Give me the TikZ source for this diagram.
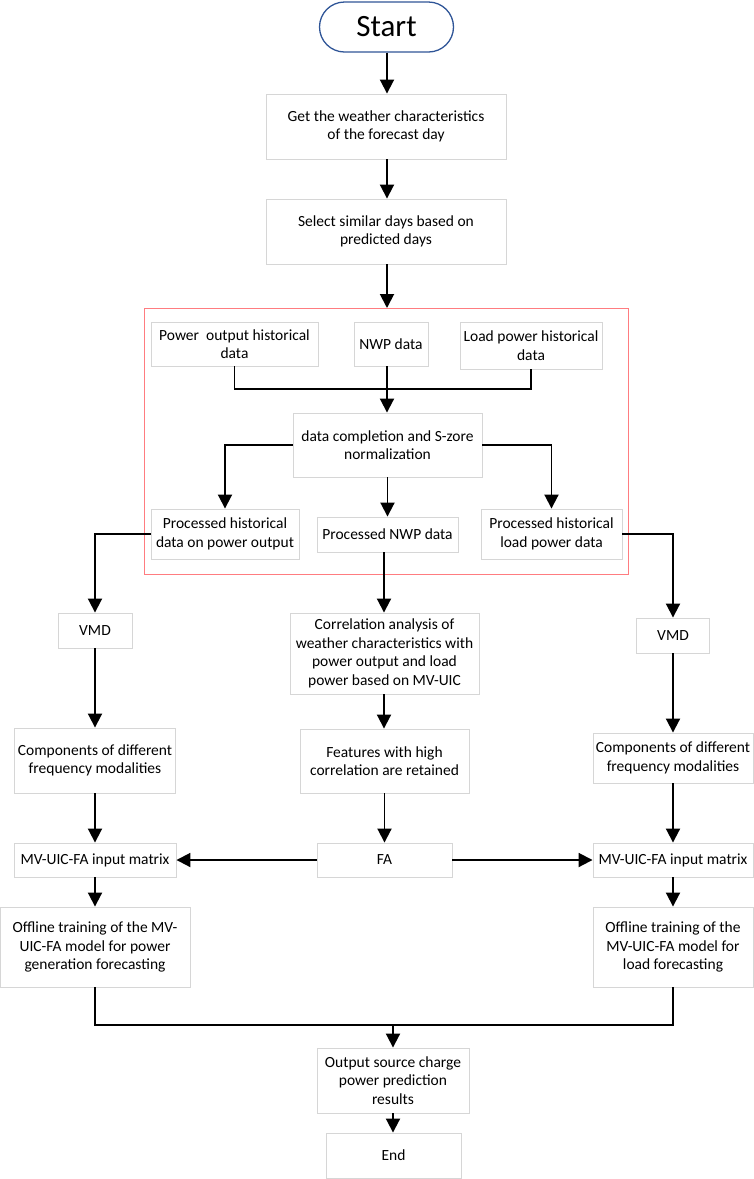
\documentclass[tikz,border=0pt]{standalone}
\usepackage{fontspec}
\setmainfont{Carlito}
\usetikzlibrary{arrows.meta}
\definecolor{boxgray}{HTML}{D6D6D6}
\definecolor{startblue}{HTML}{2F5597}
\definecolor{redline}{HTML}{FF7C80}
\begin{document}
\begin{tikzpicture}[x=1pt,y=-1pt,
  box/.style={draw=boxgray, line width=0.9pt, align=center, inner sep=0pt, font=\fontsize{15.5}{18.5}\selectfont},
  arr/.style={line width=1.9pt, -{Triangle[width=14pt,length=14pt]}},
  ln/.style={line width=1.9pt}]
\useasboundingbox (0,0) rectangle (754,1179);

% red frame
\draw[redline, line width=1pt] (144,308) rectangle (628,574);

% nodes
\node[draw=startblue, line width=1.3pt, rounded corners=25pt, minimum width=134pt, minimum height=50pt, inner sep=0pt, font=\fontsize{31}{34}\selectfont] (start) at (386.5,27) {Start};
\node[box, minimum width=240pt, minimum height=65pt] (b1) at (386,126.5) {Get the weather characteristics\\of the forecast day};
\node[box, minimum width=240pt, minimum height=65pt] (b2) at (386,231.5) {Select similar days based on\\predicted days};

\node[box, minimum width=167pt, minimum height=44pt] (pw) at (234.5,344) {Power\ \ output historical\\data};
\node[box, minimum width=74pt, minimum height=44pt] (nwp) at (391,344) {NWP data};
\node[box, minimum width=142pt, minimum height=47pt] (ld) at (531,345.5) {Load power historical\\data};

\node[box, minimum width=189pt, minimum height=64pt] (dc) at (387.5,445) {data completion and S-zore\\normalization};

\node[box, minimum width=148pt, minimum height=50pt] (ph) at (225,534) {Processed historical\\data on power output};
\node[box, minimum width=141pt, minimum height=35pt] (pn) at (387.5,534.5) {Processed NWP data};
\node[box, minimum width=141pt, minimum height=50pt] (pl) at (551.5,534) {Processed historical\\load power data};

\node[box, minimum width=74pt, minimum height=35pt] (vmdL) at (95,630.5) {VMD};
\node[box, minimum width=73pt, minimum height=35pt] (vmdR) at (673,635.5) {VMD};
\node[box, minimum width=189pt, minimum height=81pt] (corr) at (384.5,653.5) {Correlation analysis of\\weather characteristics with\\power output and load\\power based on MV-UIC};

\node[box, minimum width=161pt, minimum height=65pt] (compL) at (95,760.5) {Components of different\\frequency modalities};
\node[box, minimum width=169pt, minimum height=64pt] (feat) at (384.5,761) {Features with high\\correlation are retained};
\node[box, minimum width=160pt, minimum height=50pt] (compR) at (673,758) {Components of different\\frequency modalities};

\node[box, minimum width=162pt, minimum height=34pt] (mvL) at (95,860) {MV-UIC-FA input matrix};
\node[box, minimum width=135pt, minimum height=34pt] (fa) at (384.5,860) {FA};
\node[box, minimum width=160pt, minimum height=34pt] (mvR) at (673,860) {MV-UIC-FA input matrix};

\node[box, minimum width=190pt, minimum height=80pt] (offL) at (95,947) {Offline training of the MV-\\UIC-FA model for power\\generation forecasting};
\node[box, minimum width=160pt, minimum height=80pt] (offR) at (673,947) {Offline training of the\\MV-UIC-FA model for\\load forecasting};

\node[box, minimum width=152pt, minimum height=65pt] (out) at (393,1080.5) {Output source charge\\power prediction\\results};
\node[box, minimum width=135pt, minimum height=45pt] (end) at (393.5,1155.5) {End};

% helper coordinates
\coordinate (jn) at (387,389);
\coordinate (mc) at (384,0);
\coordinate (bj) at (393,1025);

% connectors
\draw[arr] (start.south -| jn) -- (b1.north -| jn);
\draw[arr] (b1.south -| jn) -- (b2.north -| jn);
\draw[arr] (b2.south -| jn) -- (jn |- 0,308);

\draw[ln] (pw.south) |- (ld.south |- jn) -- (ld.south);
\draw[arr] (jn |- nwp.south) -- (jn |- dc.north);

\draw[arr] (dc.west) -| (ph.north);
\draw[arr] (dc.south) -- (pn.north);
\draw[arr] (dc.east) -| (pl.north);

\draw[arr] (ph.west) -| (vmdL.north);
\draw[arr] (pl.east) -| (vmdR.north);
\draw[arr] (pn.south -| mc) -- (corr.north -| mc);

\draw[arr] (vmdL.south) -- (compL.north);
\draw[arr] (vmdR.south) -- (compR.north);
\draw[arr] (corr.south -| mc) -- (feat.north -| mc);

\draw[arr] (compL.south) -- (mvL.north);
\draw[arr] (feat.south) -- (fa.north);
\draw[arr] (compR.south) -- (mvR.north);

\draw[arr] (fa.west) -- (mvL.east);
\draw[arr] (fa.east) -- (mvR.west);

\draw[arr] (mvL.south) -- (offL.north);
\draw[arr] (mvR.south) -- (offR.north);

\draw[ln] (offL.south) |- (bj) -| (offR.south);
\draw[arr] (bj) -- (out.north -| bj);
\draw[arr] (out.south -| bj) -- (end.north -| bj);
\end{tikzpicture}
\end{document}
